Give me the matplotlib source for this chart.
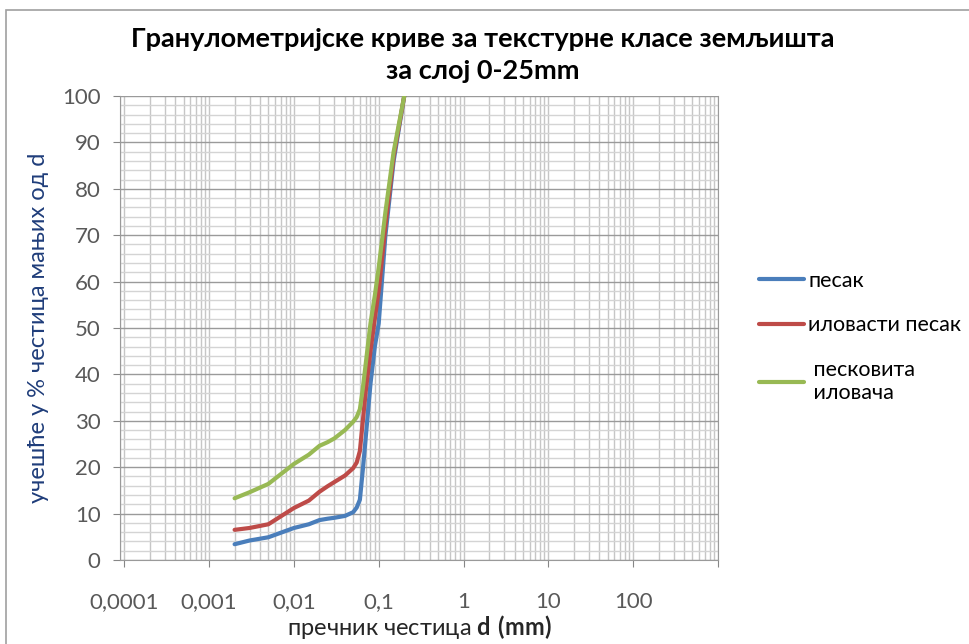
import matplotlib
matplotlib.use('Agg')
import matplotlib.pyplot as plt
from matplotlib.ticker import FixedLocator, FixedFormatter, MultipleLocator
from matplotlib.patches import Rectangle

plt.rcParams['font.family'] = ['Lato', 'DejaVu Sans']
plt.rcParams['mathtext.fontset'] = 'custom'
plt.rcParams['mathtext.rm'] = 'Lato'
plt.rcParams['mathtext.bf'] = 'Lato:bold'

# particle diameter d (mm)
d_mm = [0.002, 0.003, 0.005, 0.01, 0.015, 0.02, 0.025, 0.03, 0.04, 0.05, 0.055, 0.06,
        0.065, 0.07, 0.08, 0.09, 0.1, 0.12, 0.15, 0.2]

# % of particles smaller than d
pesak = [3.4, 4.2, 4.9, 6.9, 7.7, 8.6, 8.9, 9.1, 9.5, 10.3, 11.3, 13.0,
         19.5, 26.0, 38.0, 46.0, 51.0, 70.0, 86.0, 100.0]
ilovasti_pesak = [6.5, 6.9, 7.7, 11.2, 12.8, 14.7, 15.9, 16.8, 18.2, 19.8, 21.0, 23.5,
                  30.0, 36.0, 45.0, 52.0, 58.0, 72.0, 87.0, 100.0]
peskovita_ilovaca = [13.3, 14.6, 16.4, 20.7, 22.7, 24.6, 25.4, 26.2, 28.0, 29.8, 30.8, 32.5,
                     37.0, 42.0, 51.0, 57.0, 63.0, 75.0, 88.0, 100.0]

series_names = ['песак', 'иловасти песак', ' песковита\n иловача']

x_ticks = [1e-4, 1e-3, 1e-2, 1e-1, 1, 10, 100, 1000]
x_tick_labels = ['0,0001', '0,001', '0,01', '0,1', '1', '10', '100', '']

fig = plt.figure(figsize=(9.7, 6.44), dpi=100)
ax = fig.add_axes([120 / 970, 1 - 560 / 644, 598 / 970, 464 / 644])

ax.plot(d_mm, pesak, color='#4A7EBB', lw=3, label=series_names[0], solid_capstyle='round', solid_joinstyle='round')
ax.plot(d_mm, ilovasti_pesak, color='#BE4B48', lw=3, label=series_names[1], solid_capstyle='round', solid_joinstyle='round')
ax.plot(d_mm, peskovita_ilovaca, color='#98B954', lw=3, label=series_names[2], solid_capstyle='round', solid_joinstyle='round')

ax.set_xscale('log')
ax.set_xlim(10 ** -4.05, 1000)
ax.set_ylim(0, 100)

ax.xaxis.set_major_locator(FixedLocator(x_ticks))
ax.xaxis.set_major_formatter(FixedFormatter(x_tick_labels))
ax.yaxis.set_major_locator(MultipleLocator(10))
ax.yaxis.set_minor_locator(MultipleLocator(2))

ax.grid(True, which='major', axis='y', color='#9a9a9a', lw=1)
ax.grid(True, which='minor', axis='y', color='#d4d4d4', lw=1)
ax.grid(True, which='both', axis='x', color='#c6c6c6', lw=1)
ax.set_axisbelow(True)

for s in ax.spines.values():
    s.set_color('#9a9a9a')
ax.spines['top'].set_visible(False)

ax.tick_params(axis='both', which='major', direction='out', length=5, color='#868686',
               labelsize=16, labelcolor='#595959')
ax.tick_params(axis='y', which='major', pad=9)
ax.tick_params(axis='x', which='major', pad=18)
ax.tick_params(axis='both', which='minor', length=0)

ax.set_xlabel('пречник честица $\\mathbf{d\\ (mm)}$', fontsize=17, color='#262626', labelpad=1)
ax.set_ylabel('учешће у % честица мањих од d', fontsize=17, color='#1F3D7A', labelpad=9)

fig.suptitle('Гранулометријске криве за текстурне класе земљишта\nза слој 0-25mm',
             x=0.498, y=0.958, fontsize=19.5, fontweight='bold', linespacing=1.4)

ax.legend(loc='upper left', bbox_to_anchor=(750 / 970, 1 - 262 / 644),
          bbox_transform=fig.transFigure, frameon=False, fontsize=15.5,
          handlelength=2.1, handletextpad=0.2, labelspacing=1.15, borderaxespad=0)

fig.add_artist(Rectangle((6 / 970, -0.02), 1.1, 1 - 10 / 644 + 0.02, transform=fig.transFigure,
                         fill=False, ec='#a0a0a0', lw=1.2))

fig.savefig('out.png', dpi=100)
